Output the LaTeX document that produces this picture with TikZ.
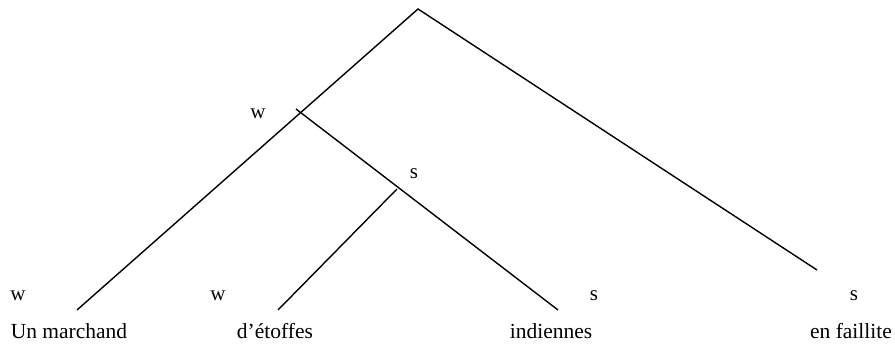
\documentclass[tikz,border=0pt]{standalone}
\usepackage{fontspec}
\setmainfont{Liberation Serif}
\begin{document}
\begin{tikzpicture}[x=1pt,y=-1pt,
  edge/.style={line width=1.4pt},
  lbl/.style={inner sep=0pt,font=\fontsize{21}{25}\selectfont},
  word/.style={inner sep=0pt,anchor=base,font=\fontsize{21.5}{26}\selectfont}]
\useasboundingbox (0,0) rectangle (895,344);
\coordinate (root) at (418,9);
\coordinate (lw) at (77,310);
\coordinate (rs) at (817,270);
\coordinate (n1) at (300,112);
\coordinate (n1s) at (296,109);
\coordinate (ind) at (558,310);
\coordinate (n2) at (397,189);
\coordinate (dw) at (278,310);
\draw[edge] (lw) -- (root) -- (rs);
\draw[edge] (n1s) -- (ind);
\draw[edge] (n2) -- (dw);
\node[lbl] (l1) at (258,114) {w};
\node[lbl] (l2) at (414,174) {s};
\node[lbl] (l3) at (18,296) {w};
\node[lbl] (l4) at (218,296) {w};
\node[lbl] (l5) at (594,296) {s};
\node[lbl] (l6) at (854,296) {s};
\node[word] (t1) at (69,339) {Un marchand};
\node[word] (t2) at (275,339) {d’étoffes};
\node[word] (t3) at (551,339) {indiennes};
\node[word] (t4) at (851,339) {en faillite};
\end{tikzpicture}
\end{document}
